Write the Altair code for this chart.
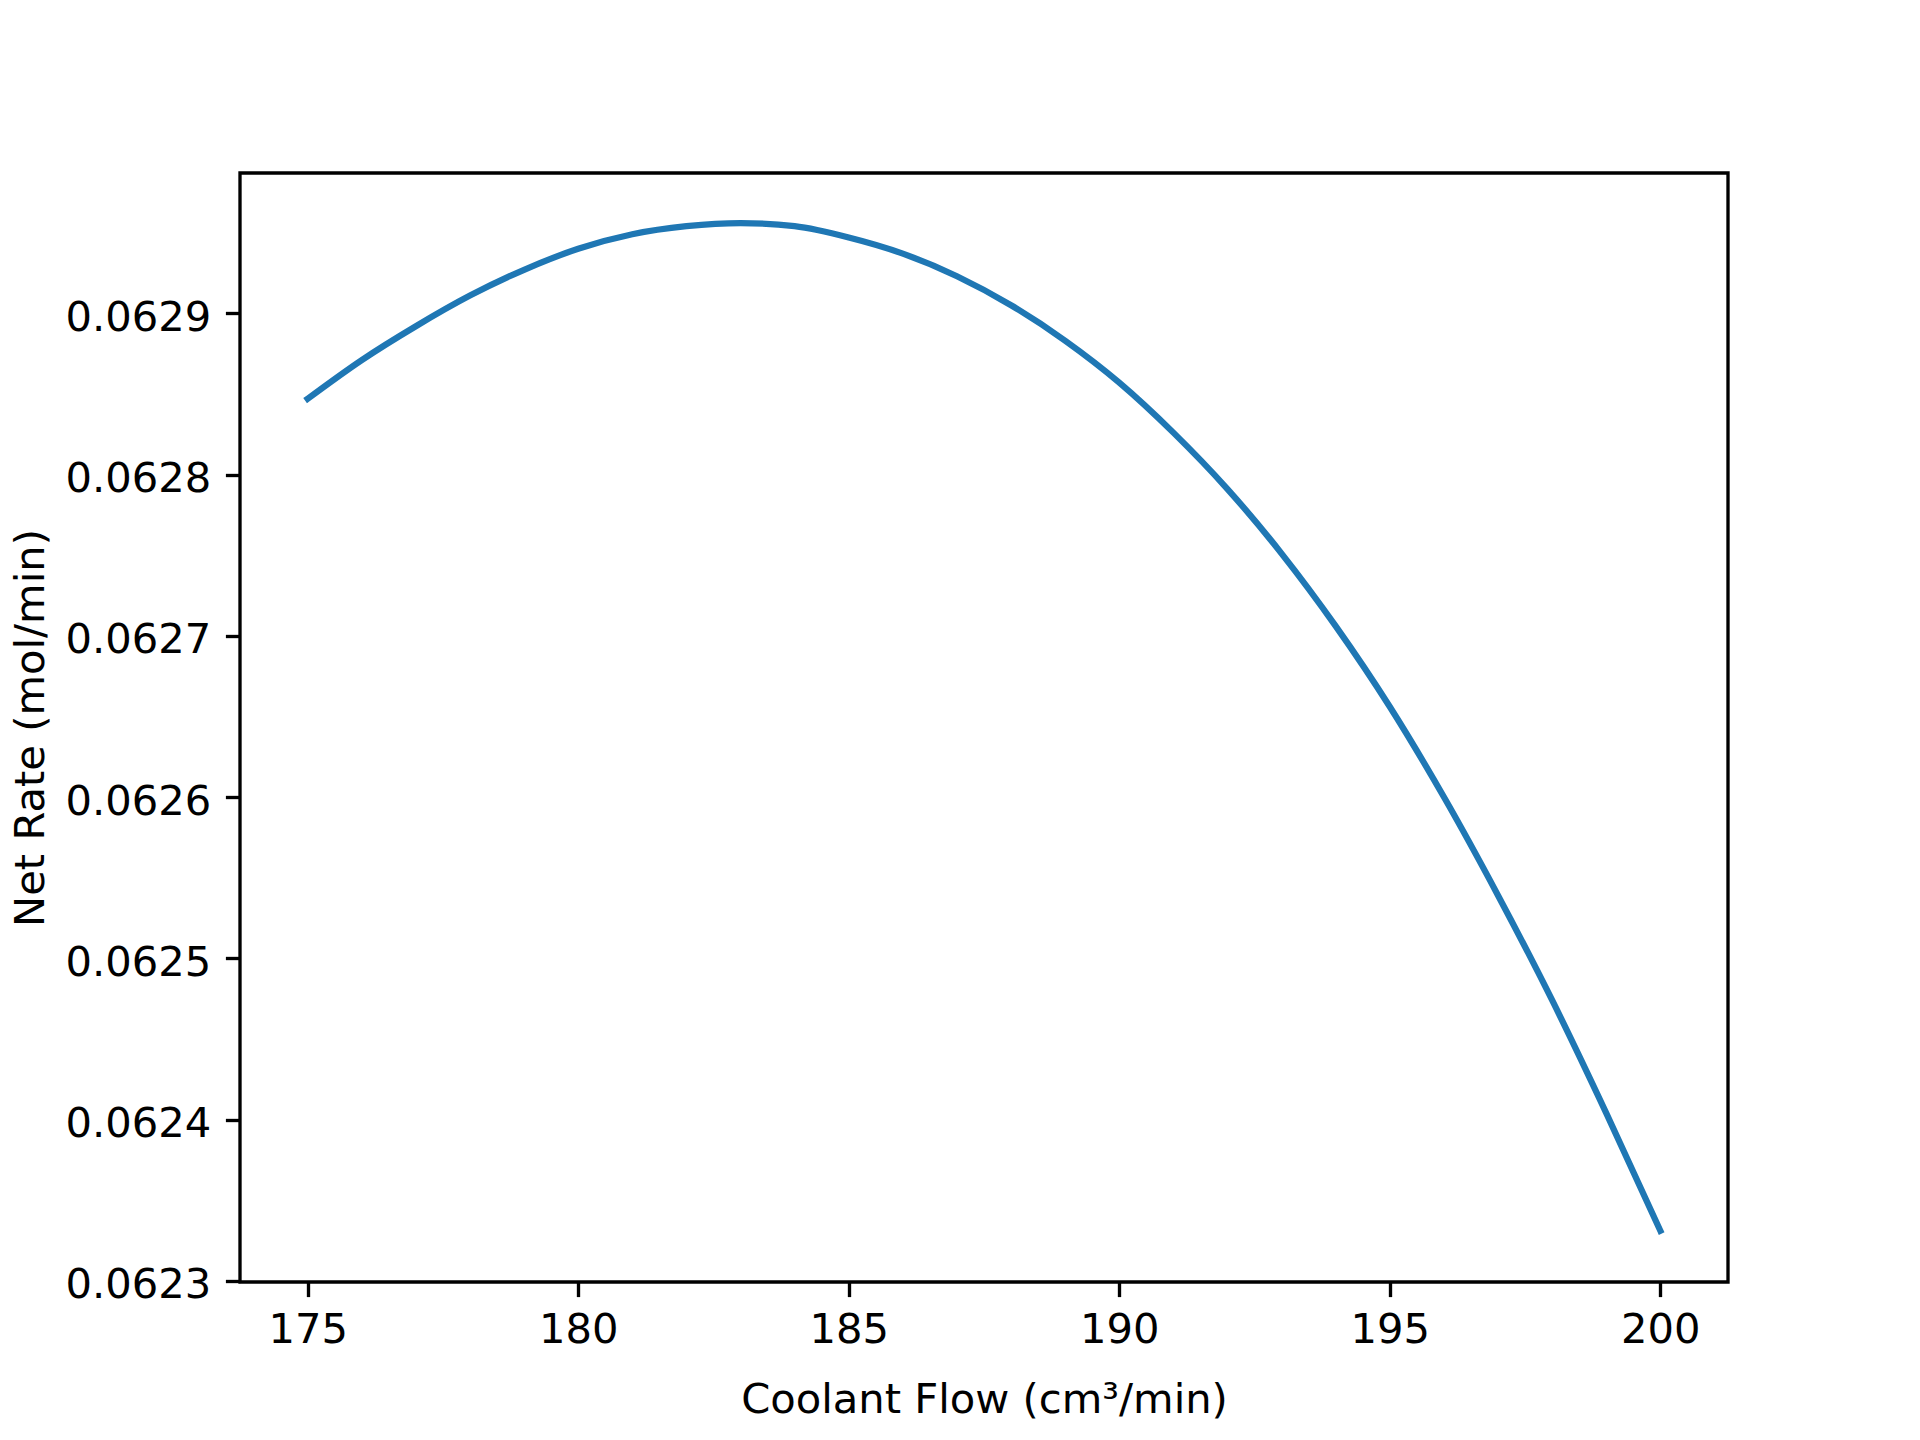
import altair as alt
import pandas as pd

flow = [175, 176, 177, 178, 179, 180, 181, 182, 183, 184, 185, 186, 187,
        188, 189, 190, 191, 192, 193, 194, 195, 196, 197, 198, 199, 200]
rate = [0.062847, 0.062871, 0.062892, 0.062911, 0.062927, 0.062940,
        0.062949, 0.062954, 0.062956, 0.062954, 0.062947, 0.062937,
        0.062923, 0.062905, 0.062883, 0.062857, 0.062826, 0.062791,
        0.062751, 0.062706, 0.062656, 0.062600, 0.062539, 0.062474,
        0.062404, 0.062331]
x_ticks = [175, 180, 185, 190, 195, 200]
y_ticks = [0.0623, 0.0624, 0.0625, 0.0626, 0.0627, 0.0628, 0.0629]
x_title = "Coolant Flow (cm³/min)"
y_title = "Net Rate (mol/min)"

df = pd.DataFrame({"flow": flow, "rate": rate})

FONT = "DejaVu Sans"
FS = 41.67

chart = alt.Chart(df).mark_line(
    color="#1f77b4", strokeWidth=6.25, interpolate="monotone",
    strokeCap="square", strokeJoin="round"
).encode(
    x=alt.X("flow:Q",
            scale=alt.Scale(domain=[173.75, 201.25], nice=False, zero=False),
            axis=alt.Axis(values=x_ticks, format="d", title=x_title,
                          titleX=744, titleY=130, titleBaseline="alphabetic",
                          titleAlign="center", labelPadding=12.6,
                          labelBaseline="top")),
    y=alt.Y("rate:Q",
            scale=alt.Scale(domain=[0.06229925, 0.06298701], nice=False, zero=False),
            axis=alt.Axis(values=y_ticks, format=".4f", title=y_title,
                          titleX=-197, titleY=554.5, titleAngle=270,
                          titleBaseline="alphabetic", titleAlign="center",
                          labelPadding=14.6, labelBaseline="middle",
                          labelOffset=4)),
).properties(
    width=1488, height=1109,
    padding={"left": 232, "top": 165, "right": 184, "bottom": 150},
    autosize=alt.AutoSizeParams(type="none"),
    background="white",
).configure_view(
    stroke="black", strokeWidth=3.33
).configure_axis(
    domain=False, grid=False,
    ticks=True, tickSize=14.6, tickWidth=3.33, tickColor="black",
    labelFont=FONT, labelFontSize=FS, labelColor="black",
    titleFont=FONT, titleFontSize=FS, titleColor="black",
    titleFontWeight="normal", labelFlush=False, labelOverlap=False,
)

chart.save("out.html", embed_options={"renderer": "svg", "actions": False})
